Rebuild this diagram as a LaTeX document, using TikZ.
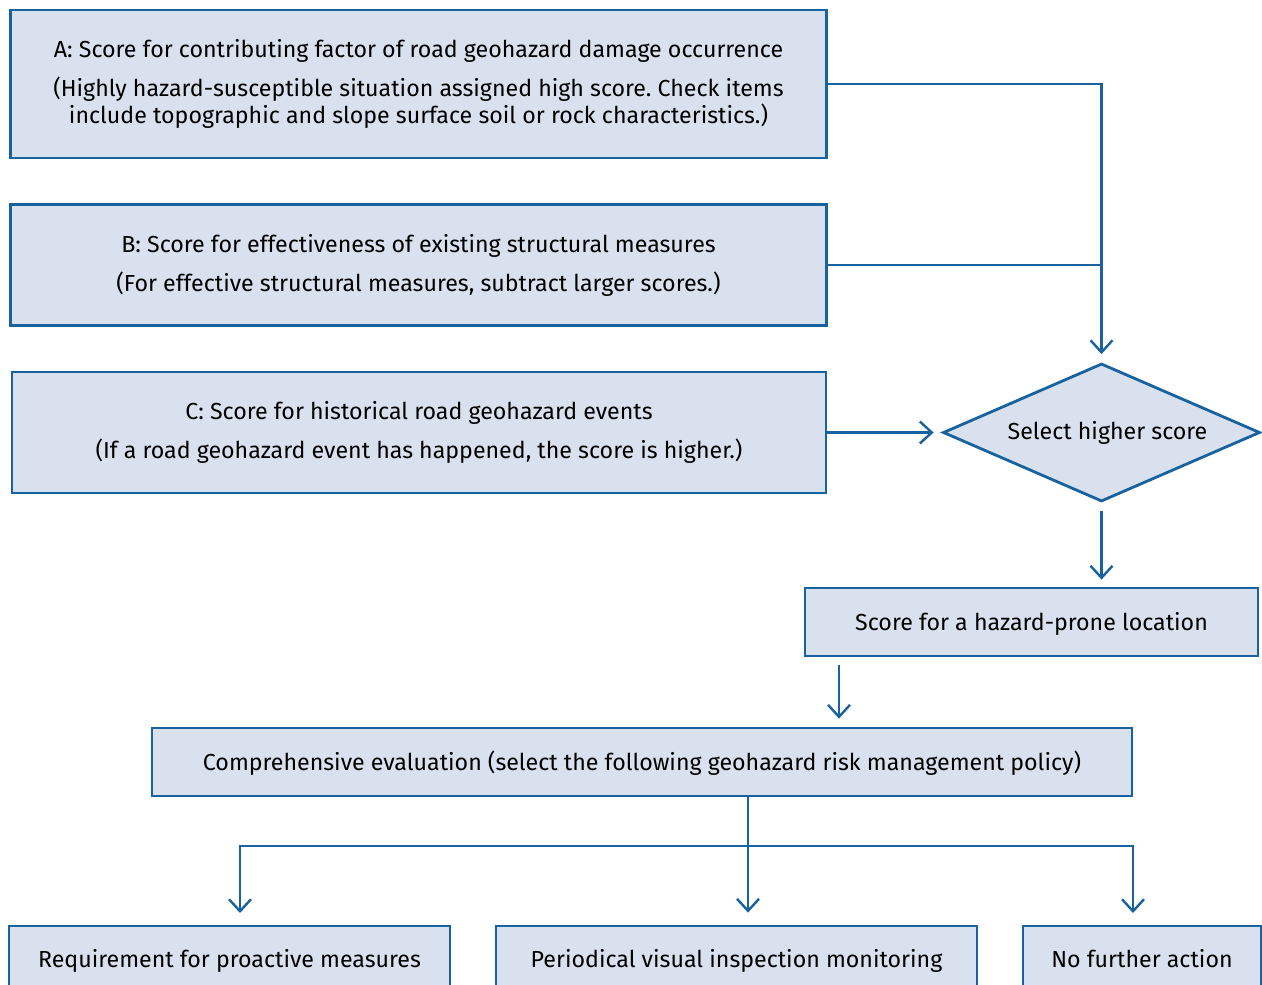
\documentclass[tikz,border=0pt]{standalone}
\usepackage{fontspec}
\setmainfont{Fira Sans}
\frenchspacing
\usetikzlibrary{shapes.geometric,positioning,arrows.meta}
\definecolor{hazblue}{RGB}{24,98,160}
\definecolor{hazfill}{RGB}{218,225,238}

\begin{document}
\begin{tikzpicture}[x=0.5pt,y=-0.5pt,
	box/.style={draw=hazblue, fill=hazfill, line width=1.4pt, align=center, inner sep=0pt, font=\fontsize{11.6}{13.5}\selectfont},
	single/.style={box, text height=1.8ex, text depth=0.2ex},
	flow/.style={draw=hazblue, line width=1.2pt, -{Straight Barb[length=6pt,width=11pt,line width=1.2pt]}},
	line/.style={draw=hazblue, line width=1.2pt}]
	\useasboundingbox (0,0) rectangle (1262,984);

	\node[box, minimum width=408pt, minimum height=74pt] (A) at (418.5,84)
		{A: Score for contributing factor of road geohazard damage occurrence\\[6pt]
		(Highly hazard-susceptible situation assigned high score. Check items\\
		include topographic and slope surface soil or rock characteristics.)};
	\node[box, minimum width=408pt, minimum height=60.5pt] (B) at (418.5,265)
		{B: Score for effectiveness of existing structural measures\\[6pt]
		(For effective structural measures, subtract larger scores.)};
	\node[box, minimum width=407pt, minimum height=60.5pt] (C) at (419,432.5)
		{C: Score for historical road geohazard events\\[6pt]
		(If a road geohazard event has happened, the score is higher.)};
	\node[box, diamond, aspect=2.3, minimum width=158.5pt, minimum height=69pt] (sel) at (1101.5,432.5)
		{\hspace*{6pt}Select higher score};
	\node[single, minimum width=226.5pt, minimum height=34pt] (score) at (1031.5,622)
		{Score for a hazard-prone location};
	\node[single, minimum width=490pt, minimum height=34pt] (comp) at (642,762)
		{Comprehensive evaluation (select the following geohazard risk management policy)};
	\node[single, minimum width=220.5pt, minimum height=33pt] (act1) at (229.5,959)
		{Requirement for proactive measures};
	\node[single, minimum width=240.5pt, minimum height=33pt] (act2) at (736.5,959)
		{Periodical visual inspection monitoring};
	\node[single, minimum width=119pt, minimum height=33pt] (act3) at (1142,959)
		{No further action};

	% branch points
	\coordinate (s1) at (839,655);
	\coordinate (c1) at (748,796);
	\coordinate (br) at (748,846);
	\coordinate (t1) at (240,925);
	\coordinate (t3) at (1133,925);

	\draw[flow, shorten >=4pt] (A.east) -| (sel.north);
	\draw[line] (B.east) -- (B.east -| sel.north);
	\draw[flow, shorten >=4pt] (C.east) -- (C.east -| sel.west);
	\draw[flow, shorten <=4pt, shorten >=3.5pt] (sel.south) -- (sel.south |- score.north);
	\draw[flow, shorten <=5pt, shorten >=4pt] (s1) -- (s1 |- comp.north);
	\draw[flow, shorten >=6pt] (c1) -- (c1 |- act2.north);
	\draw[flow, shorten >=6pt] (br) -| (t1);
	\draw[flow, shorten >=6pt] (br) -| (t3);
\end{tikzpicture}
\end{document}
